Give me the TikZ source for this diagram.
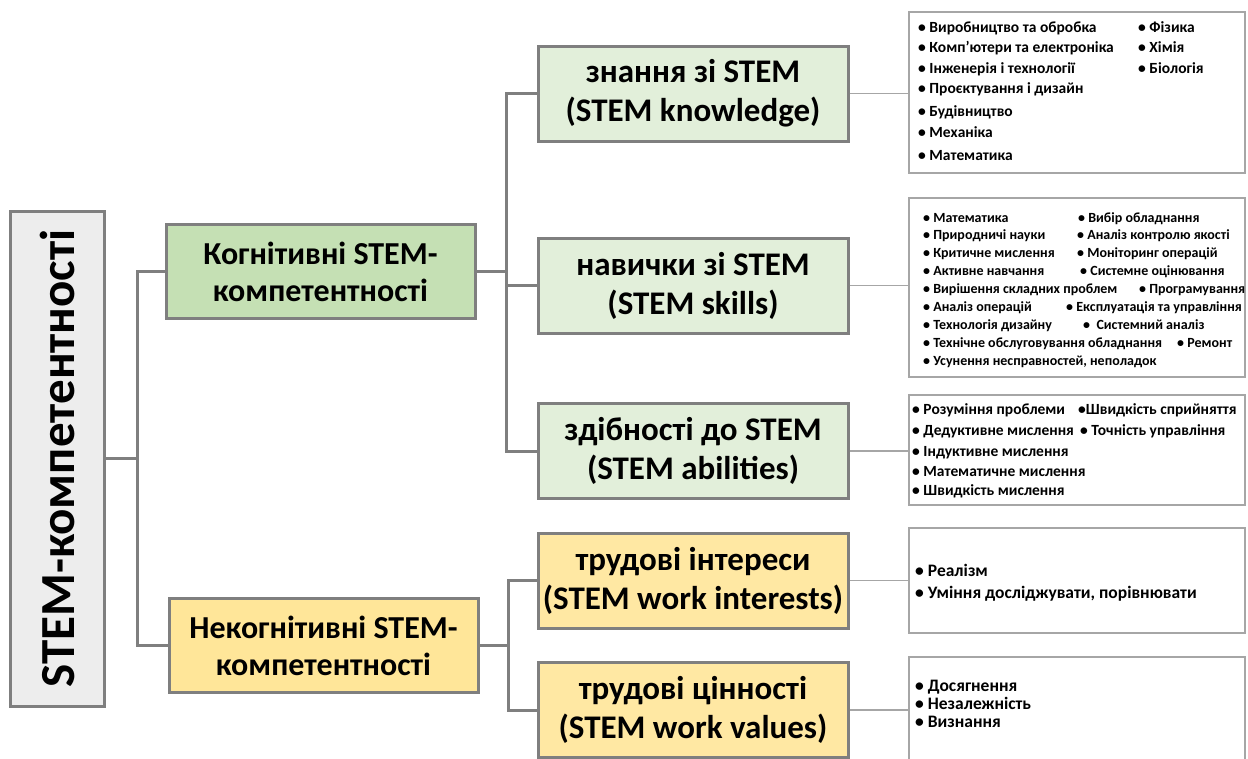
\documentclass[tikz,border=0pt]{standalone}
\usepackage{fontspec}
\setmainfont{Carlito}
\usetikzlibrary{positioning}

\definecolor{lineGray}{HTML}{7F7F7F}
\definecolor{listGray}{HTML}{A6A6A6}
\definecolor{rootFill}{HTML}{EDEDED}
\definecolor{cogGreen}{HTML}{C5E0B4}
\definecolor{subGreen}{HTML}{E2EFDA}
\definecolor{noncogYellow}{HTML}{FFE699}
\definecolor{subYellow}{HTML}{FFE8A3}

\begin{document}
\begin{tikzpicture}[x=1pt,y=-1pt,
  box/.style={draw=lineGray, line width=3pt, inner sep=0pt, align=center},
  levelone/.style={box, minimum width=309pt, minimum height=94pt,
    font=\bfseries\fontsize{32}{37}\selectfont},
  leveltwo/.style={box, minimum width=310pt, minimum height=95pt,
    font=\bfseries\fontsize{33}{39}\selectfont},
  listbox/.style={draw=listGray, line width=1.5pt, minimum width=336pt, inner sep=0pt},
  item/.style={anchor=base west, inner sep=0pt, font=\bfseries\fontsize{15.5}{18}\selectfont},
  smallitem/.style={item, font=\bfseries\fontsize{14}{16}\selectfont},
  bigitem/.style={item, font=\bfseries\fontsize{17.5}{20}\selectfont},
  conn/.style={draw=lineGray, line width=3pt},
  thin/.style={draw=listGray, line width=1.5pt}]
\useasboundingbox (0,0) rectangle (1248,758);
\clip (0,0) rectangle (1248,758);

% Root
\node[box, fill=rootFill, minimum width=94pt, minimum height=495pt,
  font=\bfseries\fontsize{49}{52}\selectfont] (root) at (57,458.5)
  {\rotatebox{90}{STEM-компетентності}};

% Two groups
\node[levelone, fill=cogGreen] (cog) at (320.5,271.5) {Когнітивні STEM-\\компетентності};
\node[levelone, fill=noncogYellow] (noncog) at (323.5,645.5) {Некогнітивні STEM-\\компетентності};

% Cognitive branches
\node[leveltwo, fill=subGreen] (know) at (693,93.5) {знання зі STEM\\(STEM knowledge)};
\node[leveltwo, fill=subGreen] (skills) at (693,285.5) {навички зі STEM\\(STEM skills)};
\node[leveltwo, fill=subGreen] (abil) at (693,451) {здібності до STEM\\(STEM abilities)};

% Non-cognitive branches
\node[leveltwo, fill=subYellow] (inter) at (693,580.5) {трудові інтереси\\(STEM work interests)};
\node[leveltwo, fill=subYellow] (vals) at (693,710) {трудові цінності\\(STEM work values)};

% Lists
\node[listbox, minimum height=161pt] (knowlist) at (1077,92.5) {};
\node[listbox, minimum height=179pt] (skilllist) at (1077,287.5) {};
\node[listbox, minimum height=110pt] (abillist) at (1077,450) {};
\node[listbox, minimum height=105pt] (interlist) at (1077,580.5) {};
\node[listbox, minimum height=113pt] (valslist) at (1077,713.5) {};

% Tree lines
\coordinate (j1) at (137,458.5);
\coordinate (j2) at (506,271.5);
\coordinate (j3) at (508,645.5);
\draw[conn] (root.east) -- (j1);
\draw[conn] (cog.west) -| (j1) |- (noncog.west);
\draw[conn] (cog.east) -- (j2);
\draw[conn] (know.west) -| (j2) |- (abil.west);
\draw[conn] (skills.west) -- (skills.west -| j2);
\draw[conn] (noncog.east) -- (j3);
\draw[conn] (inter.west) -| (j3) |- (vals.west);

\draw[thin] (know.east) -- (know.east -| knowlist.west);
\draw[thin] (skills.east) -- (skills.east -| skilllist.west);
\draw[thin] (abil.east) -- (abil.east -| abillist.west);
\draw[thin] (inter.east) -- (inter.east -| interlist.west);
\draw[thin] (vals.east) -- (vals.east -| valslist.west);

% List texts
\foreach \yy/\ta [count=\i] in {32/Виробництво та обробка, 52/Комп’ютери та електроніка,
    73/Інженерія і технології, 93/Проєктування і дизайн, 116/Будівництво,
    137/Механіка, 160/Математика}
  \node[item] (kn\i) at (918,\yy) {• \ta};
\foreach \yy/\ta [count=\i] in {32/Фізика, 52/Хімія, 73/Біологія}
  \node[item] (kb\i) at (1138,\yy) {• \ta};

\foreach \yy/\ta [count=\i] in {222/Математика, 239.5/Природничі науки,
    257/Критичне мислення, 275/Активне навчання, 293.5/Вирішення складних проблем,
    311/Аналіз операцій, 329/Технологія дизайну,
    347/Технічне обслуговування обладнання, 365/{Усунення несправностей, неполадок}}
  \node[smallitem] (sa\i) at (923,\yy) {• \ta};
\foreach \yy/\xx/\ta [count=\i] in {222/1078/Вибір обладнання,
    239.5/1077/Аналіз контролю якості, 257/1077/Моніторинг операцій,
    275/1080/Системне оцінювання, 293.5/1139/Програмування,
    311/1066/Експлуатація та управління, 329/1083/\ Системний аналіз,
    347/1177/Ремонт}
  \node[smallitem] (sb\i) at (\xx,\yy) {• \ta};

\foreach \yy/\ta [count=\i] in {414/Розуміння проблеми, 435/Дедуктивне мислення,
    456/Індуктивне мислення, 476/Математичне мислення, 495/Швидкість мислення}
  \node[item] (aa\i) at (912,\yy) {• \ta};
\node[item] (ab1) at (1078,414) {•Швидкість сприйняття};
\node[item] (ab2) at (1080,435) {• Точність управління};

\node[bigitem] (in1) at (915,576) {• Реалізм};
\node[bigitem] (in2) at (915,598) {• Уміння досліджувати, порівнювати};

\foreach \yy/\ta [count=\i] in {691/Досягнення, 709/Незалежність, 727/Визнання}
  \node[bigitem] (va\i) at (915,\yy) {• \ta};
\end{tikzpicture}
\end{document}
